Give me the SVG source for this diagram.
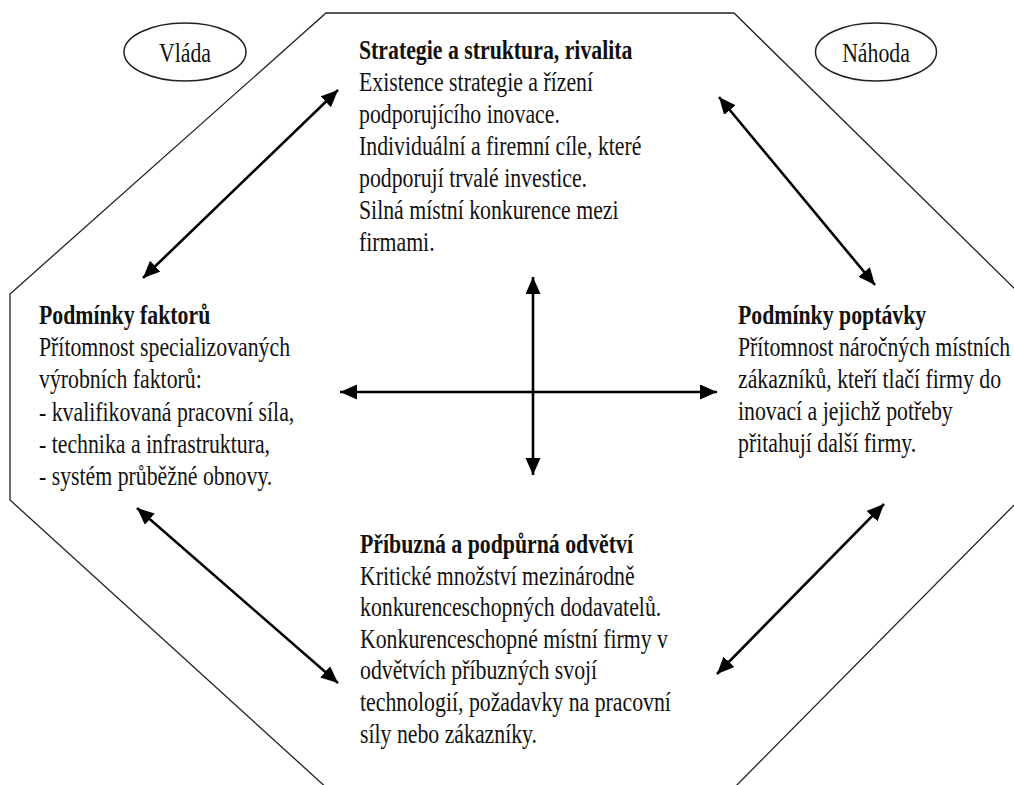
<svg xmlns="http://www.w3.org/2000/svg" width="1014" height="785" viewBox="0 0 1014 785">
<style>
.t{font-family:"Liberation Serif","Times New Roman",serif;font-size:21.8px;fill:#111}
.b{font-weight:bold}
.frame{fill:none;stroke:#222;stroke-width:1.3}
.el{fill:#fff;stroke:#222;stroke-width:1.5}
.ar{stroke:#000;stroke-width:2.6;fill:none;marker-start:url(#ah);marker-end:url(#ah)}
</style>
<defs>
<marker id="ah" markerUnits="userSpaceOnUse" markerWidth="18" markerHeight="16" refX="17" refY="7.5" orient="auto-start-reverse" viewBox="0 0 18 16">
<path d="M0,0 L17,7.5 L0,15 Z" fill="#000"/>
</marker>
</defs>
<rect width="1014" height="785" fill="#fff"/>
<g id="frame">
<polygon class="frame" points="326,13 734,13 1020,294 1020,499 732,790 329,790 10,500 10,294"/>
</g>
<g id="vlada">
<ellipse class="el" cx="185" cy="52" rx="61" ry="29"/>
<text class="t" text-anchor="middle" transform="translate(185,62) scale(1,1.22)">Vláda</text>
</g>
<g id="nahoda">
<ellipse class="el" cx="876" cy="52" rx="60.5" ry="29"/>
<text class="t" text-anchor="middle" transform="translate(876,62) scale(1,1.22)">Náhoda</text>
</g>
<g id="strategie">
<text class="t" transform="translate(359,59) scale(1,1.22)"><tspan class="b" x="0" y="0">Strategie a struktura, rivalita</tspan><tspan x="0" dy="26.2">Existence strategie a řízení</tspan><tspan x="0" dy="26.2">podporujícího inovace.</tspan><tspan x="0" dy="26.2">Individuální a firemní cíle, které</tspan><tspan x="0" dy="26.2">podporují trvalé investice.</tspan><tspan x="0" dy="26.2">Silná místní konkurence mezi</tspan><tspan x="0" dy="26.2">firmami.</tspan></text>
</g>
<g id="faktory">
<text class="t" transform="translate(39,324) scale(1,1.22)"><tspan class="b" x="0" y="0">Podmínky faktorů</tspan><tspan x="0" dy="26.4">Přítomnost specializovaných</tspan><tspan x="0" dy="26.4">výrobních faktorů:</tspan><tspan x="0" dy="26.4">- kvalifikovaná pracovní síla,</tspan><tspan x="0" dy="26.4">- technika a infrastruktura,</tspan><tspan x="0" dy="26.4">- systém průběžné obnovy.</tspan></text>
</g>
<g id="poptavka">
<text class="t" transform="translate(738,324) scale(1,1.22)"><tspan class="b" x="0" y="0">Podmínky poptávky</tspan><tspan x="0" dy="26.2">Přítomnost náročných místních</tspan><tspan x="0" dy="26.2">zákazníků, kteří tlačí firmy do</tspan><tspan x="0" dy="26.2">inovací a jejichž potřeby</tspan><tspan x="0" dy="26.2">přitahují další firmy.</tspan></text>
</g>
<g id="odvetvi">
<text class="t" transform="translate(360,553) scale(1,1.22)"><tspan class="b" x="0" y="0">Příbuzná a podpůrná odvětví</tspan><tspan x="0" dy="25.9">Kritické množství mezinárodně</tspan><tspan x="0" dy="25.9">konkurenceschopných dodavatelů.</tspan><tspan x="0" dy="25.9">Konkurenceschopné místní firmy v</tspan><tspan x="0" dy="25.9">odvětvích příbuzných svojí</tspan><tspan x="0" dy="25.9">technologií, požadavky na pracovní</tspan><tspan x="0" dy="25.9">síly nebo zákazníky.</tspan></text>
</g>
<g id="connectors">
<line class="ar" x1="143" y1="278" x2="338" y2="90"/>
<line class="ar" x1="719" y1="97" x2="875" y2="285"/>
<line class="ar" x1="137" y1="508" x2="338" y2="683"/>
<line class="ar" x1="717" y1="674" x2="884" y2="504"/>
<line class="ar" x1="533" y1="277" x2="533" y2="475"/>
<line class="ar" x1="340" y1="392" x2="717" y2="392"/>
</g>
</svg>
